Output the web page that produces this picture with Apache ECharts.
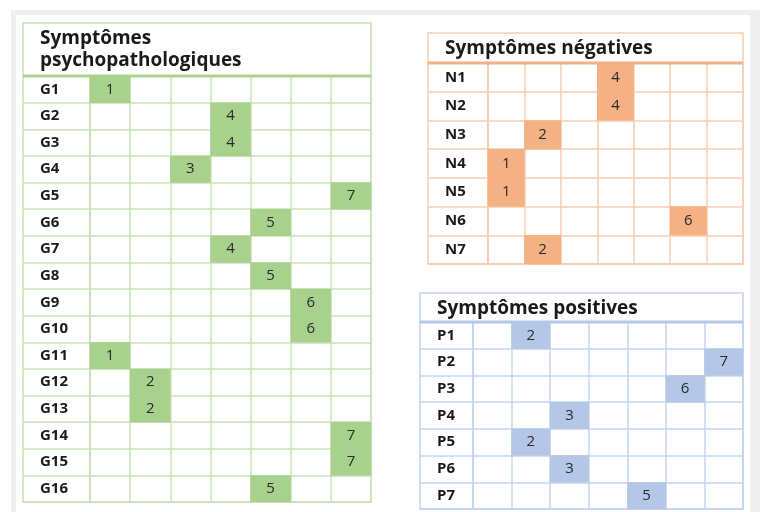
<!DOCTYPE html>
<html>
<head>
<meta charset="utf-8">
<script src="https://cdn.jsdelivr.net/npm/echarts@6/dist/echarts.min.js"></script>
<style>
  html, body { margin: 0; padding: 0; background: #fff; }
  #chart { width: 760px; height: 512px; }
</style>
</head>
<body>
<div id="chart"></div>
<script>
  // score columns 1..7
  var columns = ['1', '2', '3', '4', '5', '6', '7'];

  var psychoRows = ['G1', 'G2', 'G3', 'G4', 'G5', 'G6', 'G7', 'G8', 'G9', 'G10', 'G11', 'G12', 'G13', 'G14', 'G15', 'G16'];
  var psychoValues = [1, 4, 4, 3, 7, 5, 4, 5, 6, 6, 1, 2, 2, 7, 7, 5];

  var negRows = ['N1', 'N2', 'N3', 'N4', 'N5', 'N6', 'N7'];
  var negValues = [4, 4, 2, 1, 1, 6, 2];

  var posRows = ['P1', 'P2', 'P3', 'P4', 'P5', 'P6', 'P7'];
  var posValues = [2, 7, 6, 3, 2, 3, 5];

  var FONT = '"Open Sans", "DejaVu Sans", sans-serif';

  // layout of each block: label column + value columns + header box
  var tables = [
    { title: 'Symptômes\npsychopathologiques', rows: psychoRows, values: psychoValues,
      x: 23, labelW: 67, w: 348, headTop: 23, top: 76, h: 426, titleTop: 28,
      fill: '#a9d18e', line: '#c8e2b8', strong: '#a9d18e' },
    { title: 'Symptômes négatives', rows: negRows, values: negValues,
      x: 428, labelW: 60, w: 315, headTop: 33, top: 63, h: 201, titleTop: 38,
      fill: '#f4b183', line: '#f9cdb0', strong: '#f4b183' },
    { title: 'Symptômes positives', rows: posRows, values: posValues,
      x: 420, labelW: 53, w: 323, headTop: 293, top: 322, h: 187, titleTop: 298,
      fill: '#b4c7e7', line: '#c5d4ef', strong: '#b4c7e7' }
  ];

  var grid = [], xAxis = [], yAxis = [], series = [], title = [];
  var graphic = [
    { type: 'rect', z: -10, shape: { x: 11, y: 10, width: 749, height: 502 }, style: { fill: '#efefef' } },
    { type: 'rect', z: -9, shape: { x: 16, y: 15, width: 734, height: 497 }, style: { fill: '#ffffff' } }
  ];

  tables.forEach(function (t, k) {
    var gl = k * 2, gv = k * 2 + 1;
    // label column
    grid.push({ left: t.x, top: t.top, width: t.labelW, height: t.h,
      show: true, backgroundColor: '#fff', borderColor: t.line, borderWidth: 1.5 });
    // value columns
    grid.push({ left: t.x + t.labelW, top: t.top, width: t.w - t.labelW, height: t.h,
      show: true, backgroundColor: '#fff', borderColor: t.line, borderWidth: 1.5 });

    xAxis.push({ type: 'category', gridIndex: gl, data: [''], show: false });
    xAxis.push({ type: 'category', gridIndex: gv, data: columns,
      axisLine: { show: false }, axisTick: { show: false }, axisLabel: { show: false },
      splitLine: { show: true, interval: 0, lineStyle: { color: t.line, width: 1.5 } } });

    yAxis.push({ type: 'category', gridIndex: gl, data: t.rows, inverse: true,
      axisLine: { show: false }, axisTick: { show: false },
      axisLabel: { inside: true, margin: 17, color: '#1a1a1a', fontFamily: FONT, fontWeight: 'bold', fontSize: 15 },
      splitLine: { show: true, interval: 0, lineStyle: { color: t.line, width: 1.5 } } });
    yAxis.push({ type: 'category', gridIndex: gv, data: t.rows, inverse: true,
      axisLine: { show: false }, axisTick: { show: false }, axisLabel: { show: false },
      splitLine: { show: true, interval: 0, lineStyle: { color: t.line, width: 1.5 } } });

    series.push({
      type: 'heatmap', xAxisIndex: gv, yAxisIndex: gv,
      data: t.values.map(function (v, i) { return [v - 1, i, v]; }),
      itemStyle: { color: t.fill },
      label: { show: true, color: '#2a2a2a', fontFamily: FONT, fontSize: 15,
        formatter: function (p) { return p.value[2]; } },
      emphasis: { disabled: true }
    });

    // header box
    graphic.push({ type: 'rect', shape: { x: t.x, y: t.headTop, width: t.w, height: t.top - t.headTop },
      style: { fill: '#fff', stroke: t.line, lineWidth: 1.5 } });
    graphic.push({ type: 'line', z: 5, shape: { x1: t.x, y1: t.top, x2: t.x + t.w, y2: t.top },
      style: { stroke: t.strong, lineWidth: 3 } });

    title.push({ text: t.title, left: t.x + 17, top: t.titleTop, padding: 0,
      textStyle: { fontFamily: FONT, fontWeight: 'bold', fontSize: 19, lineHeight: 22, color: '#1a1a1a' } });
  });

  var chart = echarts.init(document.getElementById('chart'));
  chart.setOption({
    animation: false,
    title: title,
    graphic: graphic,
    grid: grid,
    xAxis: xAxis,
    yAxis: yAxis,
    series: series
  });
</script>
</body>
</html>
